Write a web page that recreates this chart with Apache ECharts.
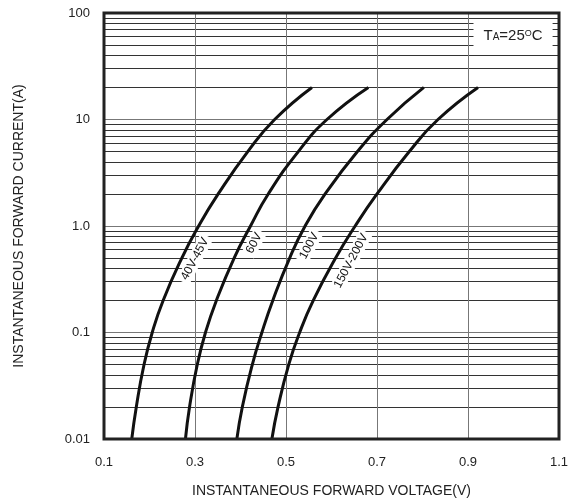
<!DOCTYPE html>
<html>
<head>
<meta charset="utf-8">
<script src="https://cdn.jsdelivr.net/npm/echarts@6/dist/echarts.min.js"></script>
<style>
html,body{margin:0;padding:0;background:#fff;}
#chart{width:574px;height:501px;}
</style>
</head>
<body>
<div id="chart"></div>
<script>
// Forward current (A) sampled along each curve
const current = [0.01, 0.02, 0.05, 0.1, 0.2, 0.5, 1.0, 2.0, 5.0, 10, 20];
// Forward voltage (V) of each curve at those currents
const v40_45 = [0.161, 0.171, 0.188, 0.206, 0.230, 0.271, 0.308, 0.351, 0.416, 0.475, 0.557];
const v60 = [0.279, 0.288, 0.305, 0.323, 0.347, 0.386, 0.422, 0.461, 0.527, 0.590, 0.681];
const v100 = [0.392, 0.404, 0.426, 0.447, 0.471, 0.508, 0.542, 0.586, 0.657, 0.722, 0.803];
const v150_200 = [0.469, 0.4825, 0.506, 0.530, 0.560, 0.609, 0.652, 0.700, 0.771, 0.834, 0.922];

const curveNames = ['40V-45V', '60V', '100V', '150V-200V'];
// label anchor positions [V, I] beside each curve
const labelAnchors = [[0.300, 0.49], [0.430, 0.69], [0.551, 0.65], [0.643, 0.47]];

const xTicks = [0.1, 0.3, 0.5, 0.7, 0.9, 1.1];
const xGrid = [0.3, 0.5, 0.7, 0.9];
const yTicks = [0.01, 0.1, 1, 10, 100];
const yTickLabels = ['0.01', '0.1', '1.0', '10', '100'];
const yMinorMultipliers = [2, 3, 4, 5, 6, 7, 8, 9];

const tempLabelPos = [0.999, 62];

const FONT = 'Liberation Sans, Arial, sans-serif';

const minorGrid = [];
for (let d = 0; d < yTicks.length - 1; d++) {
  yMinorMultipliers.forEach(m => minorGrid.push(+(m * yTicks[d]).toPrecision(6)));
}

const curves = [v40_45, v60, v100, v150_200];

const series = curves.map((vs, i) => ({
  type: 'line',
  name: curveNames[i],
  data: vs.map((v, k) => [v, current[k]]),
  symbol: 'none',
  smooth: 0.5,
  lineStyle: {color: '#111', width: 3},
  z: 5,
  markPoint: {
    symbol: 'rect',
    symbolSize: 0,
    silent: true,
    data: [{coord: labelAnchors[i], value: curveNames[i]}],
    label: {
      show: true,
      position: 'inside',
      rotate: 62,
      formatter: curveNames[i],
      color: '#111',
      fontFamily: FONT,
      fontSize: 12,
      backgroundColor: '#fff',
      padding: [1, 3]
    }
  }
}));

// grid helper series: minor log grid lines + vertical grid lines + temperature note
series.push({
  type: 'line',
  data: [],
  symbol: 'none',
  z: 1,
  markLine: {
    silent: true,
    symbol: 'none',
    animation: false,
    label: {show: false},
    lineStyle: {color: '#333', width: 1, type: 'solid'},
    data: minorGrid.map(v => ({yAxis: v})).concat(xGrid.map(v => ({xAxis: v, lineStyle: {color: '#777', width: 1, type: 'solid'}})))
  },
  markPoint: {
    symbol: 'rect',
    symbolSize: 0,
    silent: true,
    z: 10,
    data: [{coord: tempLabelPos, value: 0}],
    label: {
      show: true,
      position: 'inside',
      backgroundColor: '#fff',
      padding: [9, 10, 7, 10],
      formatter: '{a|T}{b|A}{a|=25}{c|O}{a|C}',
      rich: {
        a: {fontFamily: FONT, fontSize: 15, color: '#222', verticalAlign: 'bottom'},
        b: {fontFamily: FONT, fontSize: 10, color: '#222', verticalAlign: 'bottom', padding: [0, 0, 1, 0]},
        c: {fontFamily: FONT, fontSize: 9, color: '#222', verticalAlign: 'top'}
      }
    }
  }
});

const chart = echarts.init(document.getElementById('chart'), null, {renderer: 'canvas'});
chart.setOption({
  animation: false,
  backgroundColor: '#fff',
  grid: {left: 104, right: 15, top: 13, bottom: 62, containLabel: false, outerBoundsMode: 'none', show: true, borderColor: '#222', borderWidth: 3, backgroundColor: 'transparent', z: 20},
  xAxis: {
    type: 'value',
    min: 0.1,
    max: 1.1,
    name: 'INSTANTANEOUS FORWARD VOLTAGE(V)',
    nameLocation: 'middle',
    nameGap: 45,
    nameTextStyle: {fontFamily: FONT, fontSize: 14, color: '#222'},
    axisLine: {show: false},
    axisTick: {show: false},
    splitLine: {show: false},
    axisLabel: {
      customValues: xTicks,
      formatter: v => v.toFixed(1),
      fontFamily: FONT, fontSize: 13, color: '#222', margin: 17,
      showMinLabel: true, showMaxLabel: true
    }
  },
  yAxis: {
    type: 'log',
    logBase: 10,
    min: 0.01,
    max: 100,
    name: 'INSTANTANEOUS FORWARD CURRENT(A)',
    nameLocation: 'middle',
    nameGap: 78,
    nameTextStyle: {fontFamily: FONT, fontSize: 14, color: '#222'},
    axisLine: {show: false},
    axisTick: {show: false},
    splitLine: {show: true, lineStyle: {color: '#777', width: 1}},
    axisLabel: {
      formatter: v => {
        const i = yTicks.findIndex(t => Math.abs(Math.log10(t) - Math.log10(v)) < 1e-6);
        return i >= 0 ? yTickLabels[i] : '';
      },
      fontFamily: FONT, fontSize: 13, color: '#222', margin: 14
    }
  },
  series: series
});
</script>
</body>
</html>
